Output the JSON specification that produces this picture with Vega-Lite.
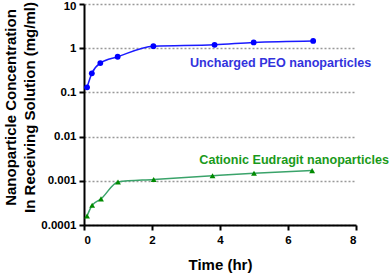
{
  "$schema": "https://vega.github.io/schema/vega-lite/v6.json",
  "width": 272,
  "height": 221,
  "autosize": {"type": "none"},
  "padding": {"left": 84, "top": 4, "right": 33, "bottom": 51},
  "background": "white",
  "config": {
    "view": {"stroke": null},
    "font": "Liberation Sans",
    "axis": {
      "domainColor": "black", "domainWidth": 2, "tickColor": "black", "tickWidth": 2,
      "tickSize": 5, "labelFont": "Liberation Sans", "labelFontWeight": "bold", "labelFontSize": 11.5,
      "labelColor": "black", "titleFont": "Liberation Sans", "titleFontWeight": "bold",
      "titleFontSize": 15, "titleColor": "black"
    }
  },
  "datasets": {
    "series": [
      {"series": "PEO", "time": 0.09, "conc": 0.13},
      {"series": "PEO", "time": 0.23, "conc": 0.27},
      {"series": "PEO", "time": 0.48, "conc": 0.46},
      {"series": "PEO", "time": 0.99, "conc": 0.64},
      {"series": "PEO", "time": 2.04, "conc": 1.11},
      {"series": "PEO", "time": 3.84, "conc": 1.19},
      {"series": "PEO", "time": 4.99, "conc": 1.35},
      {"series": "PEO", "time": 6.74, "conc": 1.46},
      {"series": "Eudragit", "time": 0.09, "conc": 0.00016},
      {"series": "Eudragit", "time": 0.24, "conc": 0.00028},
      {"series": "Eudragit", "time": 0.5, "conc": 0.00039},
      {"series": "Eudragit", "time": 1.0, "conc": 0.00094},
      {"series": "Eudragit", "time": 2.05, "conc": 0.00107},
      {"series": "Eudragit", "time": 3.78, "conc": 0.0013},
      {"series": "Eudragit", "time": 5.0, "conc": 0.00148},
      {"series": "Eudragit", "time": 6.71, "conc": 0.0017}
    ],
    "labels": [
      {"series": "PEO", "time": 5.78, "conc": 0.47, "text": "Uncharged PEO nanoparticles"},
      {"series": "Eudragit", "time": 6.18, "conc": 0.0029, "text": "Cationic Eudragit nanoparticles"}
    ]
  },
  "layer": [
    {
      "data": {"name": "series"},
      "mark": {"type": "line", "interpolate": "monotone", "strokeWidth": 1.5},
      "encoding": {
        "x": {"field": "time", "type": "quantitative", "scale": {"domain": [0, 8], "nice": false},
              "axis": {"values": [0, 2, 4, 6, 8], "title": "Time (hr)", "grid": false, "titlePadding": 12, "labelPadding": 4}},
        "y": {"field": "conc", "type": "quantitative", "scale": {"type": "log", "domain": [0.0001, 10], "nice": false},
              "axis": {"values": [0.0001, 0.001, 0.01, 0.1, 1, 10], "format": "~g",
                       "title": ["Nanoparticle Concentration", "In Receiving Solution (mg/ml)"],
                       "grid": true, "gridDash": [2, 2], "gridColor": "#999999", "gridWidth": 1.5,
                       "titlePadding": 3, "labelPadding": 3, "titleLineHeight": 19, "titleY": 103,
                       "labelOffset": {"condition": {"test": "datum.value >= 10", "value": 2}, "value": 0}}},
        "color": {"field": "series", "type": "nominal",
                  "scale": {"domain": ["PEO", "Eudragit"], "range": ["#1a1aff", "#3aa36a"]}, "legend": null}
      }
    },
    {
      "data": {"name": "series"},
      "mark": {"type": "point", "filled": true, "opacity": 1},
      "encoding": {
        "x": {"field": "time", "type": "quantitative"},
        "y": {"field": "conc", "type": "quantitative"},
        "shape": {"field": "series", "type": "nominal", "scale": {"domain": ["PEO", "Eudragit"], "range": ["circle", "triangle-up"]}, "legend": null},
        "color": {"field": "series", "type": "nominal",
                  "scale": {"domain": ["PEO", "Eudragit"], "range": ["#0000ff", "#008a00"]}, "legend": null},
        "size": {"value": 34}
      }
    },
    {
      "data": {"name": "labels"},
      "mark": {"type": "text", "fontWeight": "bold", "fontSize": 12.6, "font": "Liberation Sans"},
      "encoding": {
        "x": {"field": "time", "type": "quantitative"},
        "y": {"field": "conc", "type": "quantitative"},
        "text": {"field": "text"},
        "color": {"field": "series", "type": "nominal",
                  "scale": {"domain": ["PEO", "Eudragit"], "range": ["#3333dd", "#1a9a1a"]}, "legend": null}
      }
    }
  ],
  "resolve": {"scale": {"color": "independent"}}
}
